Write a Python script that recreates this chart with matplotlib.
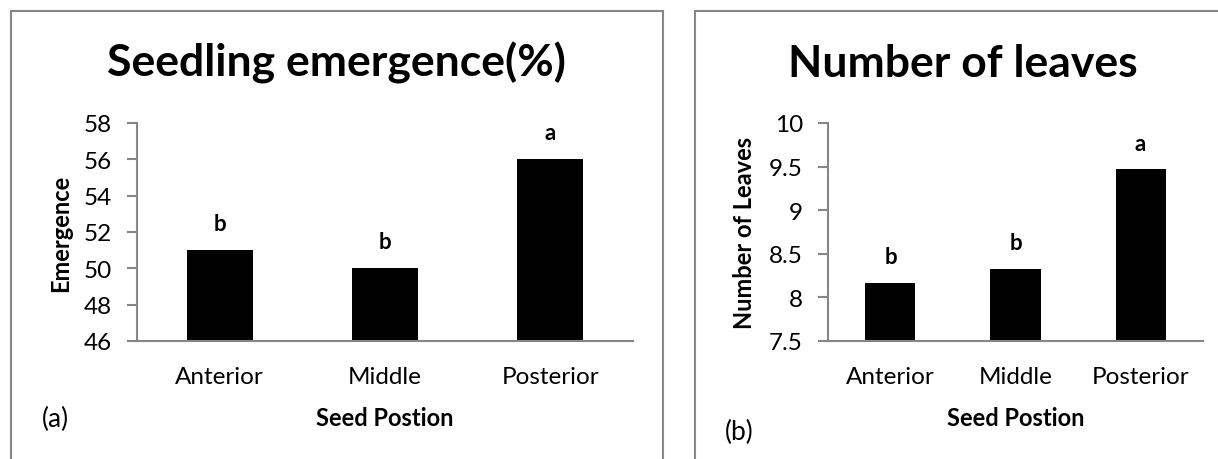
import matplotlib.pyplot as plt
from matplotlib.patches import Rectangle
import numpy as np

plt.rcParams['font.family'] = ['Lato', 'DejaVu Sans']

# data
positions = ['Anterior', 'Middle', 'Posterior']
emergence = [51, 50, 56]
emergence_groups = ['b', 'b', 'a']
leaves = [8.17, 8.33, 9.47]
leaves_groups = ['b', 'b', 'a']

W, H = 1218, 460
fig = plt.figure(figsize=(W / 100, H / 100), dpi=100)
axis_grey = '#868686'


def px(x0, y0, x1, y1):
    # pixel box (top-left origin) -> figure fraction [l, b, w, h]
    return [x0 / W, 1 - y1 / H, (x1 - x0) / W, (y1 - y0) / H]


def bar_panel(ax, values, groups, ylim, yticks, ylabel, offset, ylab_x):
    x = np.arange(len(positions))
    ax.bar(x, values, width=0.4, color='black', zorder=2)
    for xi, v, g in zip(x, values, groups):
        ax.text(xi, v + offset, g, ha='center', va='center',
                fontsize=16, fontweight='bold')
    ax.set_xlim(-0.5, len(positions) - 0.5)
    ax.set_ylim(*ylim)
    ax.set_yticks(yticks)
    ax.set_yticklabels([f'{t:g}' for t in yticks])
    ax.set_xticks(x)
    ax.set_xticklabels(positions)
    ax.spines['top'].set_visible(False)
    ax.spines['right'].set_visible(False)
    for s in ('left', 'bottom'):
        ax.spines[s].set_color(axis_grey)
        ax.spines[s].set_linewidth(1.5)
    ax.tick_params(axis='y', length=7, width=1.5, color=axis_grey,
                   labelsize=17.5, pad=11)
    ax.tick_params(axis='x', length=0, labelsize=17.5, pad=18)
    ax.set_xlabel('Seed Postion', fontsize=17, fontweight='bold', labelpad=14)
    ax.set_ylabel(ylabel, fontsize=17, fontweight='bold')
    ax.yaxis.set_label_coords(ylab_x / W, 0.5, transform=fig.transFigure)
    ax.yaxis.label.set_va('center')


# panel frames
for x0, x1 in [(11, 663), (695, 1240)]:
    fig.add_artist(Rectangle((x0 / W, -0.1), (x1 - x0) / W, 1.1 - 12 / H,
                             transform=fig.transFigure, fill=False,
                             edgecolor=axis_grey, linewidth=1.5))

ax1 = fig.add_axes(px(137, 124, 633, 342))
bar_panel(ax1, emergence, emergence_groups, (46, 58),
          [46, 48, 50, 52, 54, 56, 58], 'Emergence', 1.45, 61)

ax2 = fig.add_axes(px(828, 124, 1203, 342))
bar_panel(ax2, leaves, leaves_groups, (7.5, 10),
          [7.5, 8, 8.5, 9, 9.5, 10], 'Number of Leaves', 0.3, 745)

# re-centre the y labels vertically on the plot area
for ax in (ax1, ax2):
    ax.yaxis.label.set_y(1 - 233 / H)

fig.text(336 / W, 1 - 77 / H, 'Seedling emergence(%)', ha='center',
         va='baseline', fontsize=32, fontweight='bold')
fig.text(963 / W, 1 - 77 / H, 'Number of leaves', ha='center',
         va='baseline', fontsize=32, fontweight='bold')
fig.text(42 / W, 1 - 419 / H, '(a)', ha='left', va='center', fontsize=19)
fig.text(725 / W, 1 - 432 / H, '(b)', ha='left', va='center', fontsize=19)

fig.savefig('out.png', dpi=100)
